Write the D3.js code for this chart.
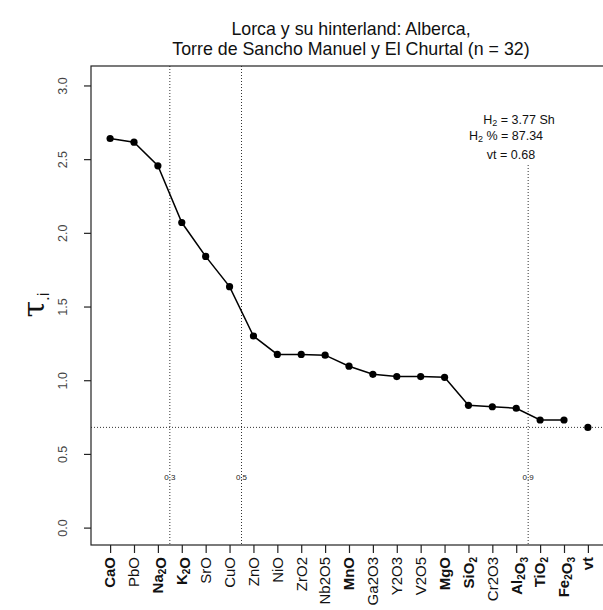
<!DOCTYPE html>
<html>
<head>
<meta charset="utf-8">
<script src="https://cdnjs.cloudflare.com/ajax/libs/d3/7.8.5/d3.min.js"></script>
<style>
  body { margin: 0; background: #fff; }
  text { font-family: "Liberation Sans", Arial, sans-serif; }
</style>
</head>
<body>
<div id="chart"></div>
<script>
// oxides in order of decreasing tau_i
var oxides = ["CaO", "PbO", "Na2O", "K2O", "SrO", "CuO", "ZnO", "NiO", "ZrO2", "Nb2O5",
              "MnO", "Ga2O3", "Y2O3", "V2O5", "MgO", "SiO2", "Cr2O3", "Al2O3", "TiO2", "Fe2O3"];
var tauValues = [2.64, 2.615, 2.455, 2.07, 1.84, 1.635, 1.30, 1.175, 1.175, 1.17,
                 1.095, 1.04, 1.025, 1.025, 1.02, 0.83, 0.82, 0.81, 0.73, 0.73];
// major oxides drawn bold with subscripts
var majorOxides = ["CaO", "Na2O", "K2O", "MnO", "MgO", "SiO2", "Al2O3", "TiO2", "Fe2O3", "vt"];
var vtValue = 0.68;
var yTicks = [0, 0.5, 1, 1.5, 2, 2.5, 3];
// cut positions (between categories) and their labels
var cutPositions = [3.5, 6.5, 18.5];
var cutLabels = ["0.3", "0.5", "0.9"];
var titleLines = ["Lorca y su hinterland: Alberca,", "Torre de Sancho Manuel y El Churtal (n = 32)"];
var statLines = [["H", "2", " = 3.77 Sh"], ["H", "2", " % = 87.34"], ["vt = 0.68", "", ""]];

var width = 603, height = 610;
var svg = d3.select("#chart").append("svg")
    .attr("width", width)
    .attr("height", height);

var labels = oxides.concat(["vt"]);

var x = d3.scaleLinear()
    .domain([0.2, 21.8])
    .range([91, 607]);

var y = d3.scaleLinear()
    .domain([-0.118, 3.132])
    .range([545, 66]);

// title
svg.selectAll(".title")
    .data(titleLines)
    .enter().append("text")
    .attr("x", 351)
    .attr("y", function(d, i) { return 35 + i * 20; })
    .attr("text-anchor", "middle")
    .style("font-size", "17.8px")
    .attr("fill", "#111")
    .text(function(d) { return d; });

// dotted reference lines
svg.append("line")
    .attr("x1", x(0.2)).attr("x2", x(21.8))
    .attr("y1", y(vtValue)).attr("y2", y(vtValue))
    .attr("stroke", "#333").attr("stroke-width", 1)
    .attr("stroke-dasharray", "1,2");

svg.selectAll(".cut")
    .data(cutPositions)
    .enter().append("line")
    .attr("x1", function(d) { return x(d); })
    .attr("x2", function(d) { return x(d); })
    .attr("y1", function(d, i) { return i == 2 ? 165 : y.range()[1]; })
    .attr("y2", y.range()[0])
    .attr("stroke", "#333").attr("stroke-width", 1)
    .attr("stroke-dasharray", "1,2");

svg.selectAll(".cutlab")
    .data(cutPositions)
    .enter().append("text")
    .attr("x", function(d) { return x(d); })
    .attr("y", 480)
    .attr("text-anchor", "middle")
    .style("font-size", "8px")
    .attr("fill", "#222")
    .text(function(d, i) { return cutLabels[i]; });

// box
svg.append("rect")
    .attr("x", x(0.2)).attr("y", y.range()[1])
    .attr("width", x(21.8) - x(0.2))
    .attr("height", y.range()[0] - y.range()[1])
    .attr("fill", "none")
    .attr("stroke", "#222")
    .attr("stroke-width", 1.2);

// y axis
var yAxis = svg.append("g")
    .attr("transform", "translate(" + x(0.2) + ",0)")
    .call(d3.axisLeft(y).tickValues(yTicks).tickSize(7).tickFormat(d3.format(".1f")));
yAxis.select(".domain").remove();
yAxis.selectAll(".tick line").attr("stroke", "#222").attr("stroke-width", 1.2);
yAxis.selectAll(".tick text")
    .attr("x", 0).attr("dy", 0)
    .attr("transform", "translate(-24,0) rotate(-90)")
    .attr("text-anchor", "middle")
    .style("font-size", "12.5px")
    .attr("fill", "#444");

// x axis
var xAxis = svg.append("g")
    .attr("transform", "translate(0," + y.range()[0] + ")")
    .call(d3.axisBottom(x).tickValues(d3.range(1, 22)).tickSize(8).tickFormat(""));
xAxis.select(".domain").remove();
xAxis.selectAll(".tick line").attr("stroke", "#222").attr("stroke-width", 1.2);

var xLab = svg.selectAll(".xlab")
    .data(labels)
    .enter().append("text")
    .attr("transform", function(d, i) { return "translate(" + (x(i + 1) + 5.3) + ",557) rotate(-90)"; })
    .attr("text-anchor", "end")
    .style("font-size", "15px")
    .style("font-weight", function(d) { return majorOxides.indexOf(d) >= 0 ? "bold" : "normal"; })
    .attr("fill", "#111");

xLab.each(function(d) {
    var t = d3.select(this);
    if (majorOxides.indexOf(d) < 0) { t.text(d); return; }
    var parts = d.match(/[A-Za-z]+|\d+/g);
    parts.forEach(function(p) {
        if (/\d/.test(p)) {
            t.append("tspan").attr("dy", 3).style("font-size", "10px").text(p);
            t.append("tspan").attr("dy", -3).text("");
        } else {
            t.append("tspan").text(p);
        }
    });
});

// y label tau_i
var yl = svg.append("text")
    .attr("transform", "translate(44,305) rotate(-90)")
    .attr("text-anchor", "middle")
    .attr("fill", "#111");
yl.append("tspan").style("font-size", "30px").style("font-family", "'DejaVu Serif', serif").text("\u03c4");
yl.append("tspan").attr("dy", 5).style("font-size", "17px").text(".i");

// data line and points
var line = d3.line()
    .x(function(d, i) { return x(i + 1); })
    .y(function(d) { return y(d); });

svg.append("path")
    .datum(tauValues)
    .attr("d", line)
    .attr("fill", "none")
    .attr("stroke", "#000")
    .attr("stroke-width", 1.5);

svg.selectAll(".pt")
    .data(tauValues.concat([vtValue]))
    .enter().append("circle")
    .attr("cx", function(d, i) { return x(i + 1); })
    .attr("cy", function(d) { return y(d); })
    .attr("r", 3.6)
    .attr("fill", "#000");

// statistics text
var statX = [519, 506, 511];
svg.selectAll(".stat")
    .data(statLines)
    .enter().append("text")
    .attr("x", function(d, i) { return statX[i]; })
    .attr("y", function(d, i) { return [124, 140, 159][i]; })
    .attr("text-anchor", "middle")
    .style("font-size", "12.5px")
    .attr("fill", "#111")
    .each(function(d) {
        var t = d3.select(this);
        t.append("tspan").text(d[0]);
        if (d[1]) {
            t.append("tspan").attr("dy", 2).style("font-size", "9px").text(d[1]);
            t.append("tspan").attr("dy", -2).text(d[2]);
        }
    });
</script>
</body>
</html>
